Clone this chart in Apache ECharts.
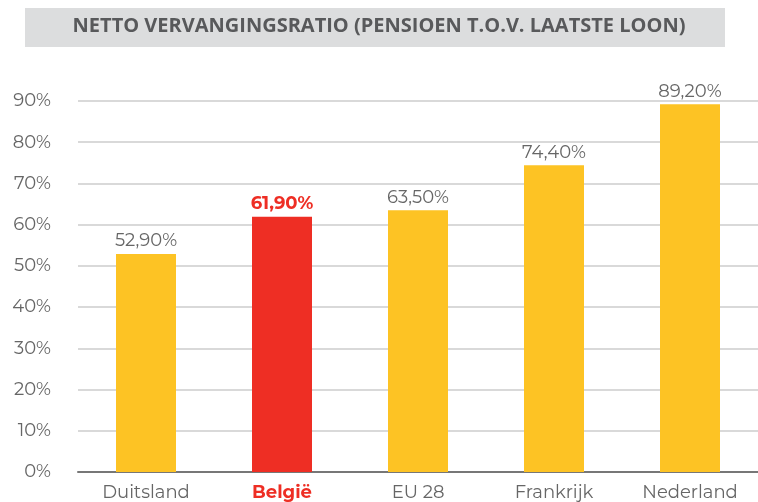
<!DOCTYPE html>
<html lang="nl">
<head>
  <meta charset="UTF-8">
  <title>Netto vervangingsratio</title>
  <script src="https://cdn.jsdelivr.net/npm/echarts@6/dist/echarts.min.js"></script>
  <style>
    html, body { margin: 0; padding: 0; background: #fff; }
    #chart { width: 758px; height: 502px; }
  </style>
</head>
<body>
  <div id="chart"></div>
  <script>
    // data
    var landen = ['Duitsland', 'België', 'EU 28', 'Frankrijk', 'Nederland'];
    var ratio = [52.9, 61.9, 63.5, 74.4, 89.2];
    var highlight = 'België';

    var geel = '#FDC324';
    var rood = '#EE2E24';
    var grijs = '#666';

    var chart = echarts.init(document.getElementById('chart'));

    var option = {
      animation: false,
      textStyle: { fontFamily: 'Montserrat, "Open Sans", sans-serif' },
      graphic: [
        {
          type: 'rect',
          left: 25, top: 8,
          shape: { width: 700, height: 39 },
          style: { fill: '#DCDDDE' }
        },
        {
          type: 'text',
          left: 'center', top: 16,
          x: -4,
          style: {
            text: 'NETTO VERVANGINGSRATIO (PENSIOEN T.O.V. LAATSTE LOON)',
            fill: '#58595B',
            font: 'bold 20px "Open Sans", sans-serif'
          }
        }
      ],
      grid: { left: 78, right: 0, top: 101, bottom: 28 },
      xAxis: {
        type: 'category',
        data: landen,
        axisTick: { show: false },
        axisLine: { lineStyle: { color: '#777', width: 2 } },
        axisLabel: {
          interval: 0,
          fontSize: 18,
          margin: 12,
          formatter: function (v) { return v === highlight ? '{b|' + v + '}' : '{n|' + v + '}'; },
          rich: {
            b: { color: rood, fontWeight: 'bold', fontSize: 18 },
            n: { color: grijs, fontWeight: 'normal', fontSize: 18 }
          }
        }
      },
      yAxis: {
        type: 'value',
        min: 0, max: 90, interval: 10,
        axisLabel: {
          formatter: '{value}%',
          color: grijs,
          fontSize: 18,
          margin: 27
        },
        splitLine: { lineStyle: { color: '#D9D9D9', width: 2 } }
      },
      series: [{
        type: 'bar',
        barWidth: 60,
        data: ratio.map(function (v, i) {
          var hl = landen[i] === highlight;
          return {
            value: v,
            itemStyle: { color: hl ? rood : geel },
            label: hl ? { color: rood, fontWeight: 'bold' } : {}
          };
        }),
        label: {
          show: true,
          position: 'top',
          distance: 4,
          fontSize: 18,
          color: grijs,
          formatter: function (p) { return p.value.toFixed(2).replace('.', ',') + '%'; }
        }
      }]
    };

    chart.setOption(option);
  </script>
</body>
</html>
